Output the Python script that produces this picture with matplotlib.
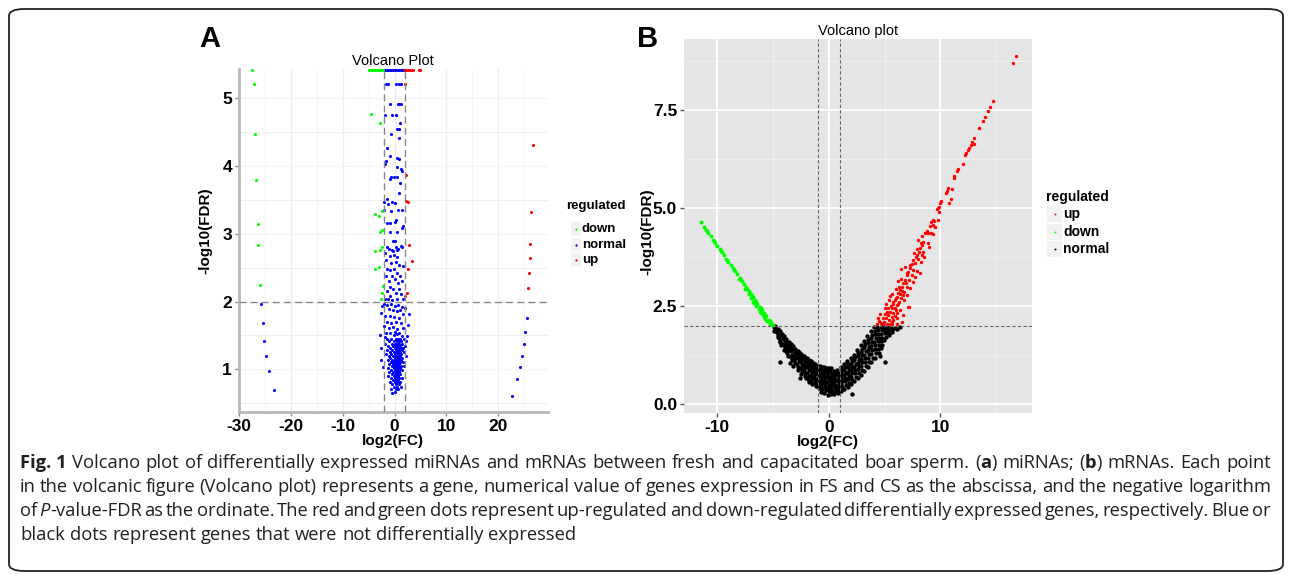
import matplotlib
matplotlib.use('Agg')
import matplotlib.pyplot as plt
from matplotlib import font_manager
from matplotlib.patches import FancyBboxPatch, Rectangle
from matplotlib.lines import Line2D

W, H = 1292, 578
avail = {f.name for f in font_manager.fontManager.ttflist}
CF = 'Liberation Sans' if 'Liberation Sans' in avail else 'DejaVu Sans'
CAPF = 'Liberation Sans Narrow' if 'Liberation Sans Narrow' in avail else ('Open Sans' if 'Open Sans' in avail else CF)
plt.rcParams['font.family'] = [CF, 'DejaVu Sans']

# ---------------- Panel A data (miRNAs) ----------------
a_categories = ['down', 'normal', 'up']
a_colors = {'down': '#00FF00', 'normal': '#0000FF', 'up': '#FF0000'}
a_down = [(-27.4, 5.42), (-27.1, 5.21), (-26.9, 4.47), (-26.7, 3.79), (-26.4, 3.15), (-26.3, 2.84), (-26.0, 2.25),
          (-4.6, 4.76), (-2.9, 4.64), (-3.8, 3.29), (-3.0, 3.26), (-2.4, 3.34), (-2.8, 3.02), (-2.5, 3.05),
          (-3.8, 2.75), (-2.9, 2.76), (-2.5, 2.81), (-3.7, 2.48), (-3.0, 2.51), (-2.2, 2.23), (-2.4, 2.13), (-2.6, 2.03),
          (-5.0, 5.42), (-4.7, 5.42), (-4.4, 5.42), (-4.1, 5.42), (-3.8, 5.42), (-3.5, 5.42), (-3.2, 5.42),
          (-2.9, 5.42), (-2.6, 5.42), (-2.3, 5.42)]
a_up = [(26.8, 4.31), (26.4, 3.32), (26.2, 2.85), (26.1, 2.64), (26.0, 2.42), (25.8, 2.20),
        (2.1, 5.21), (2.2, 3.86), (2.2, 3.48), (2.6, 3.47), (2.7, 2.84), (3.4, 2.60), (2.6, 2.48), (2.4, 2.12), (2.1, 2.08),
        (2.0, 5.42), (2.3, 5.42), (2.6, 5.42), (3.0, 5.42), (3.3, 5.42), (3.6, 5.42), (4.7, 5.42), (5.0, 5.42)]
a_normal_outer = [(-25.8, 1.96), (-25.4, 1.68), (-25.2, 1.42), (-24.7, 1.20), (-24.2, 0.98), (-23.2, 0.70),
                  (25.5, 1.75), (25.2, 1.55), (25.0, 1.37), (24.6, 1.19), (24.2, 1.03), (23.7, 0.86), (22.6, 0.61)]
a_normal_rows = [
    (5.42, [-2.1, -1.8, -1.5, -1.2, -0.9, -0.6, -0.3, 0.0, 0.3, 0.6, 0.9, 1.2, 1.5, 1.8]),
    (5.21, [-1.7, -1.3, 0.2, 0.8, 1.2]), (4.92, [-0.8, 0.6, 0.9, 1.3]), (4.75, [-1.9, -0.5, 0.2]),
    (4.64, [1.0]), (4.55, [0.4, 0.8]), (4.47, [-0.6]), (4.41, [0.8]), (4.27, [-1.4]), (4.15, [-0.8]),
    (4.12, [0.5]), (4.10, [0.8]), (4.07, [-1.7]), (4.03, [-1.9]), (3.99, [0.4]), (3.95, [1.2]), (3.93, [1.4]),
    (3.83, [-0.6, -0.1, 0.4]), (3.80, [-0.8]), (3.75, [1.0]), (3.60, [0.8]), (3.51, [-1.5]), (3.47, [-2.0, -0.5]),
    (3.44, [-1.2]), (3.45, [0.0]), (3.35, [0.7, 1.5, -2.1]), (3.33, [-0.7]), (3.16, [-1.5, -0.8]), (3.18, [0.0]),
    (3.20, [0.3]), (3.12, [1.7]), (3.09, [1.5]), (3.03, [-0.8, 0.4]),
    (2.90, [-0.3, 0.0]), (2.81, [-1.5, 0.2, 1.5]), (2.78, [-1.1, 0.7]), (2.76, [-0.5, 0.4]), (2.74, [-0.3]),
    (2.82, [1.2]), (2.72, [-1.9]), (2.67, [-0.9]), (2.69, [-0.1]), (2.65, [0.5]), (2.61, [-1.7]), (2.57, [-0.6]),
    (2.58, [0.3]), (2.54, [0.9]), (2.52, [1.7]), (2.48, [-1.4, -0.1]), (2.46, [-0.9]), (2.42, [0.4]),
    (2.38, [1.0, -1.7]), (2.37, [-0.5]), (2.33, [0.1]), (2.30, [-1.1, 1.4]), (2.27, [0.6]), (2.22, [-0.8]),
    (2.19, [-0.3]), (2.18, [0.9]), (2.16, [-1.4]), (2.12, [0.2]), (2.11, [1.3]), (2.08, [-0.9]),
    (2.03, [-1.9, -1.2, 0.4]), (2.04, [1.7]), (2.02, [-0.5]),
    (1.97, [-2.0]), (1.95, [-1.5, 0.7]), (1.96, [-0.7]), (1.93, [0.0, -2.5]), (1.92, [1.4]), (1.91, [2.0]),
    (1.83, [-2.7]), (1.82, [2.8]), (1.89, [-1.1]), (1.87, [-0.3]), (1.86, [0.4]), (1.88, [1.1]), (1.81, [1.7]),
    (1.78, [-1.9]), (1.79, [-0.9]), (1.77, [-0.1]), (1.76, [0.8]), (1.70, [-1.5, 0.3]), (1.68, [-0.6, 1.2]),
    (1.65, [2.6]), (1.64, [-2.0]), (1.61, [-1.1, 1.7]), (1.62, [-0.3]), (1.59, [0.5]), (1.54, [-1.6, -0.8]),
    (1.55, [0.1]), (1.53, [0.9]), (1.51, [-2.8]), (1.49, [2.4, 1.4]), (1.48, [-1.9]), (1.50, [-0.1]), (1.52, [0.4]),
    (1.45, [-1.5, -0.6, 0.2, 0.6, 1.0, 1.8]), (1.42, [-1.0, -0.2, 0.4, 0.8, 1.3, 2.3]),
    (1.38, [-1.8, -0.5, 0.0, 0.5, 0.9, 1.5]), (1.35, [-1.2, -0.3, 0.3, 0.7, 1.1, 2.0]),
    (1.32, [-2.6, -0.8, 0.1, 0.4, 0.6, 1.2, 1.7]), (1.29, [-1.4, -0.4, 0.2, 0.5, 0.9, 1.4]),
    (1.26, [-0.9, -0.1, 0.3, 0.7, 1.0, 1.9]), (1.23, [-1.6, -0.6, 0.0, 0.4, 0.8, 1.3]),
    (1.20, [-1.1, -0.3, 0.2, 0.5, 0.6, 1.1, 2.2]), (1.17, [-0.8, 0.0, 0.3, 0.7, 0.9, 1.5]),
    (1.14, [-2.6, -1.3, -0.4, 0.1, 0.4, 0.8, 1.2]), (1.11, [-0.7, -0.1, 0.3, 0.5, 1.0, 1.6]),
    (1.08, [-1.0, -0.3, 0.2, 0.6, 0.9]), (1.05, [-0.5, 0.0, 0.4, 0.7, 1.2, 1.8]), (1.04, [-2.3]),
    (1.02, [-1.2, -0.2, 0.3, 0.6, 1.0]), (0.99, [-0.7, 0.1, 0.4, 0.8, 1.4]), (0.96, [-1.0, -0.3, 0.2, 0.5, 0.9]),
    (0.93, [-0.5, 0.0, 0.4, 0.7, 1.1]), (0.90, [-1.3, -0.2, 0.3, 0.6]), (0.87, [-0.6, 0.1, 0.5, 0.9, 1.5]),
    (0.84, [-0.3, 0.2, 0.7]), (0.81, [-0.9, 0.0, 0.4, 1.1]), (0.78, [-0.5, 0.3, 0.8]), (0.74, [-0.1, 0.5, 1.2]),
    (0.71, [-0.7, 0.2, 0.71]), (0.67, [0.1]), (0.65, [-0.44]),
]
a_xticks = [-30, -20, -10, 0, 10, 20]
a_yticks = [1, 2, 3, 4, 5]
a_fc_cut, a_fdr_cut = 2, 2

# ---------------- Panel B data (mRNAs) ----------------
b_categories = ['up', 'down', 'normal']
b_colors = {'up': '#FF0000', 'down': '#00FF00', 'normal': '#000000'}
b_down = [(-11.5, 4.65), (-11.2, 4.53), (-11.0, 4.45), (-10.8, 4.37), (-10.6, 4.29), (-10.4, 4.20), (-10.2, 4.12),
          (-10.0, 4.04), (-9.8, 3.96), (-9.6, 3.88), (-9.4, 3.80), (-9.2, 3.71), (-9.0, 3.63), (-8.8, 3.55),
          (-8.6, 3.47), (-8.4, 3.39), (-8.2, 3.31), (-8.0, 3.22), (-7.8, 3.14), (-7.6, 3.06), (-7.4, 2.98),
          (-7.2, 2.90), (-7.0, 2.82), (-6.8, 2.73), (-6.6, 2.65), (-6.4, 2.57), (-6.2, 2.49), (-6.0, 2.41),
          (-5.8, 2.33), (-5.6, 2.24), (-5.4, 2.16), (-5.2, 2.08), (-5.0, 2.01),
          (-10.9, 4.41), (-10.3, 4.16), (-9.7, 3.92), (-9.1, 3.67), (-8.5, 3.43), (-7.9, 3.18), (-7.3, 2.94),
          (-6.9, 2.77), (-6.5, 2.61), (-6.1, 2.45), (-5.7, 2.28), (-5.3, 2.12), (-5.1, 2.04),
          (-7.0, 2.72), (-6.8, 2.62), (-6.5, 2.50), (-6.3, 2.42), (-6.0, 2.30), (-5.8, 2.22), (-5.5, 2.12),
          (-5.3, 2.05), (-6.7, 2.58), (-7.2, 2.80), (-6.2, 2.36), (-5.7, 2.17), (-7.5, 2.93), (-8.1, 3.2)]
b_up = [(16.8, 8.88), (16.5, 8.71), (14.73, 7.73), (14.49, 7.59), (14.25, 7.47), (14.0, 7.33), (13.83, 7.23),
        (13.47, 7.04), (13.02, 6.79), (12.84, 6.68), (13.05, 6.63), (12.73, 6.62), (12.55, 6.53), (12.46, 6.48),
        (12.3, 6.40), (12.21, 6.35), (12.0, 6.12), (11.59, 6.0), (11.5, 5.95), (11.26, 5.81), (11.2, 5.77),
        (10.66, 5.51), (10.57, 5.44), (11.02, 5.48), (10.51, 5.38), (10.93, 5.23), (10.78, 5.14), (10.09, 5.18),
        (10.0, 5.12), (9.85, 5.04), (9.73, 4.97), (9.88, 4.91), (9.37, 4.71), (9.8, 5.0),
        (9.76, 4.70), (9.44, 4.68), (9.2, 4.65), (9.05, 4.54), (9.32, 4.57), (9.55, 4.53), (8.78, 4.42),
        (9.14, 4.37), (9.37, 4.33), (8.63, 4.36), (8.9, 4.36), (8.48, 4.14), (8.24, 4.10), (8.36, 4.06),
        (8.87, 4.10), (9.01, 4.02), (8.18, 3.98), (8.06, 3.89), (8.48, 3.89), (8.33, 3.80), (7.94, 3.80),
        (7.79, 3.75), (7.58, 3.68), (8.03, 3.70), (8.57, 3.76), (8.24, 3.63), (7.43, 3.58), (7.73, 3.59),
        (7.28, 3.47), (7.58, 3.42), (7.94, 3.40), (8.18, 3.35), (7.13, 3.38), (6.98, 3.30), (7.43, 3.30),
        (7.73, 3.25), (6.83, 3.17), (7.22, 3.17), (7.58, 3.12), (6.68, 3.08), (6.54, 3.00), (6.98, 3.00),
        (7.28, 2.96), (6.39, 2.91), (6.77, 2.87), (6.23, 2.83), (6.63, 2.79), (7.0, 2.79), (6.09, 2.74),
        (6.45, 2.70), (5.94, 2.66), (6.32, 2.61), (6.74, 2.66), (7.22, 2.47), (5.79, 2.56), (6.14, 2.53),
        (5.64, 2.45), (5.94, 2.45), (6.39, 2.40), (5.49, 2.36), (5.79, 2.32), (6.14, 2.32), (5.34, 2.28),
        (5.64, 2.23), (6.68, 2.28), (5.13, 2.19), (5.43, 2.15), (5.79, 2.15), (4.95, 2.11), (5.25, 2.06),
        (5.64, 2.06), (6.09, 2.19), (4.83, 2.05),
        (4.3, 2.05), (4.5, 2.12), (4.7, 2.08), (4.9, 2.2), (5.0, 2.3), (5.2, 2.35), (5.5, 2.05), (5.7, 2.1),
        (5.9, 2.25), (6.0, 2.4), (5.6, 2.5), (5.3, 2.45), (5.8, 2.6), (6.2, 2.55), (6.0, 2.7), (6.4, 2.8),
        (6.6, 2.9), (6.3, 3.0), (6.9, 3.1), (6.5, 3.2), (7.0, 3.35), (7.3, 3.55), (7.6, 3.85), (7.9, 3.95),
        (8.0, 4.2), (8.4, 4.3), (6.1, 2.05), (6.6, 2.1), (4.6, 2.3), (5.1, 2.55), (5.4, 2.65), (5.7, 2.8),
        (6.0, 2.95), (6.2, 3.15), (7.1, 2.49), (4.4, 2.2), (5.0, 2.45), (5.5, 2.75), (6.5, 3.45), (6.8, 3.5)]
b_normal = [
    (-4.8, 2.0), (-4.6, 1.93), (-4.4, 1.86), (-4.2, 1.79), (-4.0, 1.73), (-3.8, 1.66), (-3.6, 1.6), (-3.4, 1.54),
    (-3.2, 1.48), (-3.0, 1.42), (-2.8, 1.37), (-2.6, 1.32), (-2.4, 1.27), (-2.2, 1.22), (-2.0, 1.18), (-1.8, 1.14),
    (-1.6, 1.1), (-1.4, 1.06), (-1.2, 1.02), (-1.0, 0.99), (-0.8, 0.97), (-0.6, 0.95), (-0.4, 0.94), (-0.2, 0.93),
    (0.0, 0.93), (0.2, 0.93),
    (-4.95, 1.98), (-4.85, 1.93), (-4.9, 1.88), (-4.75, 1.86),
    (-4.65, 1.85), (-4.55, 1.78), (-4.6, 1.72), (-4.5, 1.68), (-4.4, 1.6), (-4.37, 1.09),
    (-4.3, 1.76), (-4.25, 1.69), (-4.35, 1.62), (-4.2, 1.55), (-4.28, 1.5),
    (-4.05, 1.66), (-3.95, 1.6), (-4.0, 1.52), (-3.9, 1.45), (-4.02, 1.38), (-3.85, 1.35),
    (-3.75, 1.58), (-3.65, 1.52), (-3.7, 1.44), (-3.6, 1.38), (-3.72, 1.3), (-3.62, 1.24),
    (-3.45, 1.48), (-3.35, 1.42), (-3.4, 1.35), (-3.3, 1.27), (-3.42, 1.2), (-3.32, 1.13), (-3.5, 1.05),
    (-3.15, 1.4), (-3.05, 1.33), (-3.1, 1.26), (-3.0, 1.19), (-3.12, 1.12), (-3.02, 1.05), (-3.2, 0.98),
    (-2.85, 1.3), (-2.75, 1.24), (-2.8, 1.17), (-2.7, 1.1), (-2.82, 1.03), (-2.72, 0.96), (-2.78, 0.88),
    (-2.55, 1.22), (-2.45, 1.15), (-2.5, 1.08), (-2.4, 1.0), (-2.52, 0.93), (-2.42, 0.86), (-2.58, 0.67), (-2.48, 0.78),
    (-2.25, 1.15), (-2.15, 1.08), (-2.2, 1.01), (-2.1, 0.94), (-2.22, 0.87), (-2.12, 0.8), (-2.18, 0.72), (-2.05, 0.66),
    (-1.95, 1.08), (-1.85, 1.01), (-1.9, 0.94), (-1.8, 0.87), (-1.92, 0.8), (-1.82, 0.73), (-1.88, 0.65), (-1.78, 0.58),
    (-1.65, 1.03), (-1.55, 0.96), (-1.6, 0.89), (-1.5, 0.82), (-1.62, 0.75), (-1.52, 0.68), (-1.58, 0.6), (-1.48, 0.52),
    (-1.35, 0.98), (-1.25, 0.91), (-1.3, 0.84), (-1.2, 0.77), (-1.32, 0.7), (-1.22, 0.63), (-1.28, 0.55), (-1.18, 0.47),
    (-1.05, 0.93), (-0.95, 0.86), (-1.0, 0.79), (-0.9, 0.72), (-1.02, 0.65), (-0.92, 0.58), (-0.98, 0.5), (-0.88, 0.42),
    (-0.75, 0.89), (-0.65, 0.82), (-0.7, 0.75), (-0.6, 0.68), (-0.72, 0.61), (-0.62, 0.54), (-0.68, 0.46), (-0.58, 0.38), (-0.7, 0.32),
    (-0.45, 0.87), (-0.35, 0.8), (-0.4, 0.73), (-0.3, 0.66), (-0.42, 0.59), (-0.32, 0.52), (-0.38, 0.44), (-0.28, 0.36), (-0.4, 0.3),
    (-0.15, 0.85), (-0.05, 0.78), (-0.1, 0.71), (0.0, 0.64), (-0.12, 0.57), (-0.02, 0.5), (-0.08, 0.42), (0.02, 0.34), (-0.05, 0.24),
    (0.15, 0.84), (0.25, 0.77), (0.2, 0.7), (0.3, 0.63), (0.18, 0.56), (0.28, 0.49), (0.22, 0.41), (0.32, 0.33), (0.2, 0.26),
    (0.45, 0.85), (0.55, 0.78), (0.5, 0.71), (0.6, 0.64), (0.48, 0.57), (0.58, 0.5), (0.52, 0.42), (0.62, 0.34), (0.5, 0.27),
    (0.75, 0.88), (0.85, 0.81), (0.8, 0.74), (0.9, 0.67), (0.78, 0.6), (0.88, 0.53), (0.82, 0.45), (0.92, 0.37), (0.8, 0.3),
    (1.05, 0.95), (1.15, 0.88), (1.1, 0.81), (1.2, 0.74), (1.08, 0.67), (1.18, 0.6), (1.12, 0.52), (1.22, 0.44), (1.1, 0.33),
    (1.35, 1.02), (1.45, 0.95), (1.4, 0.88), (1.5, 0.81), (1.38, 0.74), (1.48, 0.67), (1.42, 0.59), (1.52, 0.5), (1.4, 0.38),
    (1.65, 1.1), (1.75, 1.03), (1.7, 0.96), (1.8, 0.88), (1.68, 0.8), (1.78, 0.72), (1.72, 0.64), (1.82, 0.55), (1.7, 0.45),
    (1.95, 1.18), (2.05, 1.1), (2.0, 1.03), (2.1, 0.95), (1.98, 0.87), (2.08, 0.79), (2.02, 0.71), (2.12, 0.62), (2.05, 0.26), (2.0, 0.52),
    (2.25, 1.27), (2.35, 1.2), (2.3, 1.12), (2.4, 1.04), (2.28, 0.96), (2.38, 0.88), (2.32, 0.8), (2.42, 0.71), (2.3, 0.6),
    (2.55, 1.38), (2.65, 1.3), (2.6, 1.22), (2.7, 1.14), (2.58, 1.06), (2.68, 0.98), (2.62, 0.9), (2.72, 0.8), (2.6, 0.68),
    (2.85, 1.5), (2.95, 1.42), (2.9, 1.34), (3.0, 1.25), (2.88, 1.16), (2.98, 1.07), (2.92, 0.98), (3.02, 0.88), (2.9, 0.76),
    (3.15, 1.62), (3.25, 1.54), (3.2, 1.45), (3.3, 1.36), (3.18, 1.27), (3.28, 1.18), (3.22, 1.08), (3.32, 0.98), (3.2, 0.86),
    (3.45, 1.74), (3.55, 1.65), (3.5, 1.56), (3.6, 1.47), (3.48, 1.38), (3.58, 1.28), (3.52, 1.18), (3.62, 1.07), (3.5, 0.95),
    (3.75, 1.86), (3.85, 1.77), (3.8, 1.68), (3.9, 1.58), (3.78, 1.49), (3.88, 1.39), (3.82, 1.29), (3.92, 1.18), (3.8, 1.07),
    (4.05, 1.96), (4.15, 1.88), (4.1, 1.79), (4.2, 1.69), (4.08, 1.6), (4.18, 1.5), (4.12, 1.4), (4.22, 1.3), (4.1, 1.18),
    (4.35, 1.98), (4.45, 1.9), (4.4, 1.8), (4.5, 1.7), (4.38, 1.61), (4.48, 1.51), (4.42, 1.41), (4.52, 1.32),
    (4.65, 1.97), (4.75, 1.89), (4.7, 1.8), (4.8, 1.7), (4.68, 1.61), (4.78, 1.52), (4.72, 1.43), (4.6, 1.22),
    (4.95, 1.98), (5.05, 1.9), (5.0, 1.81), (5.1, 1.72), (4.98, 1.63), (5.04, 1.09),
    (5.25, 1.97), (5.35, 1.9), (5.3, 1.82), (5.4, 1.78), (5.55, 1.96), (5.65, 1.9), (5.7, 1.85),
    (6.1, 1.93), (6.4, 1.98), (5.9, 1.95)]
b_xticks = [-10, 0, 10]
b_yticks = [0.0, 2.5, 5.0, 7.5]
b_fc_cut, b_fdr_cut = 1, 2

# ---------------- Figure ----------------
fig = plt.figure(figsize=(W / 100, H / 100), dpi=100)
fig.patch.set_facecolor('white')


def fx(x):
    return x / W


def fy(y):
    return 1 - y / H


# border
fig.add_artist(FancyBboxPatch((fx(9), fy(571)), fx(1274), 562 / H,
                              boxstyle='round,pad=0,rounding_size=0.012',
                              transform=fig.transFigure, fill=False, lw=1.3, ec='#222222'))

tick_font = dict(fontsize=12.5, fontweight='bold', color='black')
lab_font = dict(fontsize=11, fontweight='bold', color='black')

# ---- Panel A ----
axA = fig.add_axes([fx(239), fy(412), (548 - 239) / W, (412 - 69) / H])
axA.set_facecolor('white')
axA.set_xlim(-30, 29.6)
axA.set_ylim(0.37, 5.43)
for v in [-25, -15, -5, 5, 15, 25]:
    axA.axvline(v, color='#F3F3F3', lw=0.6, zorder=0)
for v in [-30, -20, -10, 0, 10, 20]:
    axA.axvline(v, color='#EEEEEE', lw=0.9, zorder=0)
for v in [0.5, 1.5, 2.5, 3.5, 4.5]:
    axA.axhline(v, color='#F0F0F0', lw=0.8, zorder=0)
for v in a_yticks:
    axA.axhline(v, color='#F3F3F3', lw=0.9, zorder=0)
for s in ['top', 'right']:
    axA.spines[s].set_visible(False)
for s in ['left', 'bottom']:
    axA.spines[s].set_color('#B8B8B8')
    axA.spines[s].set_linewidth(2.0)
axA.set_xticks(a_xticks)
axA.set_yticks(a_yticks)
axA.set_xticklabels([str(t) for t in a_xticks], **tick_font)
axA.set_yticklabels([str(t) for t in a_yticks], **tick_font)
axA.tick_params(length=3, width=1, color='#888888', pad=2)

na_x = [x for y, xs in a_normal_rows for x in xs] + [p[0] for p in a_normal_outer]
na_y = [y for y, xs in a_normal_rows for x in xs] + [p[1] for p in a_normal_outer]
axA.scatter(na_x, na_y, s=5, c=a_colors['normal'], lw=0, zorder=3, clip_on=False)
axA.scatter([p[0] for p in a_down], [p[1] for p in a_down], s=5, c=a_colors['down'], lw=0, zorder=3, clip_on=False)
axA.scatter([p[0] for p in a_up], [p[1] for p in a_up], s=5, c=a_colors['up'], lw=0, zorder=3, clip_on=False)
axA.axhline(a_fdr_cut, color='#888888', lw=1.0, ls=(0, (5, 3)), zorder=4)
axA.axvline(-a_fc_cut, color='#888888', lw=1.0, ls=(0, (5, 3)), zorder=4)
axA.axvline(a_fc_cut, color='#888888', lw=1.0, ls=(0, (5, 3)), zorder=4)

fig.text(fx(393), fy(61), 'Volcano Plot', ha='center', va='center', fontsize=10.5, color='black')
fig.text(fx(205), fy(231), '-log10(FDR)', ha='center', va='center', rotation=90, **lab_font)
fig.text(fx(393), fy(441), 'log2(FC)', ha='center', va='center', **lab_font)
fig.text(fx(210), fy(39), 'A', ha='center', va='center', fontsize=21, fontweight='bold')

# legend A
fig.text(fx(566), fy(206), 'regulated', ha='left', va='center', fontsize=9.5, fontweight='bold')
for i, cat in enumerate(a_categories):
    cy = 229 + i * 15.5
    fig.add_artist(Rectangle((fx(571), fy(cy + 7)), 10 / W, 14 / H, transform=fig.transFigure,
                             fc='#F2F2F2', ec='none'))
    fig.add_artist(Line2D([fx(576)], [fy(cy)], marker='o', ms=1.6, color=a_colors[cat], mew=0,
                          transform=fig.transFigure))
    fig.text(fx(582), fy(cy), cat, ha='left', va='center', fontsize=9.5, fontweight='bold')

# ---- Panel B ----
axB = fig.add_axes([fx(684), fy(413), (1031.7 - 684) / W, (413 - 39) / H])
axB.set_facecolor('#E5E5E5')
axB.set_xlim(-12.99, 18.2)
axB.set_ylim(-0.22, 9.31)
for v in [-5, 5, 15]:
    axB.axvline(v, color='#F0F0F0', lw=0.6, zorder=0)
for v in [1.25, 3.75, 6.25, 8.75]:
    axB.axhline(v, color='#F0F0F0', lw=0.6, zorder=0)
for v in b_xticks:
    axB.axvline(v, color='white', lw=1.3, zorder=0)
for v in b_yticks:
    axB.axhline(v, color='white', lw=1.3, zorder=0)
for s in axB.spines.values():
    s.set_visible(False)
axB.set_xticks(b_xticks)
axB.set_yticks(b_yticks)
axB.set_xticklabels([str(t) for t in b_xticks], **tick_font)
axB.set_yticklabels([f'{t:.1f}' for t in b_yticks], **tick_font)
axB.tick_params(length=3, width=1, color='#555555', pad=2)

axB.scatter([p[0] for p in b_normal], [p[1] for p in b_normal], s=10, c=b_colors['normal'], lw=0, zorder=3)
axB.scatter([p[0] for p in b_down], [p[1] for p in b_down], s=8, c=b_colors['down'], lw=0, zorder=3)
axB.scatter([p[0] for p in b_up], [p[1] for p in b_up], s=6, c=b_colors['up'], lw=0, zorder=3)
axB.axhline(b_fdr_cut, color='#666666', lw=0.8, ls=(0, (3, 2)), zorder=4)
axB.axvline(-b_fc_cut, color='#666666', lw=0.8, ls=(0, (3, 2)), zorder=4)
axB.axvline(b_fc_cut, color='#666666', lw=0.8, ls=(0, (3, 2)), zorder=4)

fig.text(fx(858), fy(31), 'Volcano plot', ha='center', va='center', fontsize=10.5, color='black')
fig.text(fx(647), fy(232), '-log10(FDR)', ha='center', va='center', rotation=90, **lab_font)
fig.text(fx(828), fy(442), 'log2(FC)', ha='center', va='center', **lab_font)
fig.text(fx(648), fy(39), 'B', ha='center', va='center', fontsize=21, fontweight='bold')

# legend B
fig.text(fx(1046), fy(197), 'regulated', ha='left', va='center', fontsize=10, fontweight='bold')
for i, cat in enumerate(b_categories):
    cy = 214 + i * 17.5
    fig.add_artist(Rectangle((fx(1047), fy(cy + 8)), 15 / W, 16 / H, transform=fig.transFigure,
                             fc='#F2F2F2', ec='none'))
    fig.add_artist(Line2D([fx(1054.5)], [fy(cy)], marker='o', ms=1.4, color=b_colors[cat], mew=0,
                          transform=fig.transFigure))
    fig.text(fx(1063), fy(cy), cat, ha='left', va='center', fontsize=10, fontweight='bold')

# ---- Caption ----
caption_lines = [
    [[('Fig. 1', 'bold')], [('Volcano', 'normal')]] + [[(w, 'normal')] for w in
        'plot of differentially expressed miRNAs and mRNAs between fresh and capacitated boar sperm.'.split()]
    + [[('(', 'normal'), ('a', 'bold'), (')', 'normal')], [('miRNAs;', 'normal')],
       [('(', 'normal'), ('b', 'bold'), (')', 'normal')]] + [[(w, 'normal')] for w in 'mRNAs. Each point'.split()],
    [[(w, 'normal')] for w in ('in the volcanic figure (Volcano plot) represents a gene, numerical value of genes '
                               'expression in FS and CS as the abscissa, and the negative logarithm').split()],
    [[('of', 'normal')], [('P', 'italic'), ('-value-FDR', 'normal')]] + [[(w, 'normal')] for w in
        ('as the ordinate. The red and green dots represent up-regulated and down-regulated differentially '
         'expressed genes, respectively. Blue or').split()],
    [[(w, 'normal')] for w in 'black dots represent genes that were not differentially expressed'.split()],
]
cap_baselines = [468, 492, 516, 540]
cap_x0, cap_x1 = 20, 1271
cap_size = 13.2
renderer = fig.canvas.get_renderer()


def run_kwargs(style):
    kw = dict(fontsize=cap_size, family=[CAPF, 'DejaVu Sans'], color='#231F20')
    if style == 'bold':
        kw['fontweight'] = 'bold'
    if style == 'italic':
        kw['fontstyle'] = 'italic'
    return kw


def measure(txt, style):
    t = fig.text(0, 0, txt, **run_kwargs(style))
    w = t.get_window_extent(renderer=renderer).width
    t.remove()
    return w


space_w = measure('a a', 'normal') - 2 * measure('a', 'normal')
for li, words in enumerate(caption_lines):
    widths = [[measure(t, s) for t, s in wd] for wd in words]
    total = sum(sum(w) for w in widths)
    if li < len(caption_lines) - 1:
        gap = (cap_x1 - cap_x0 - total) / (len(words) - 1)
    else:
        gap = space_w
    x = cap_x0
    for wd, ws in zip(words, widths):
        for (t, s), w in zip(wd, ws):
            fig.text(fx(x), fy(cap_baselines[li]), t, ha='left', va='baseline', **run_kwargs(s))
            x += w
        x += gap

fig.savefig('out.png', dpi=100)
